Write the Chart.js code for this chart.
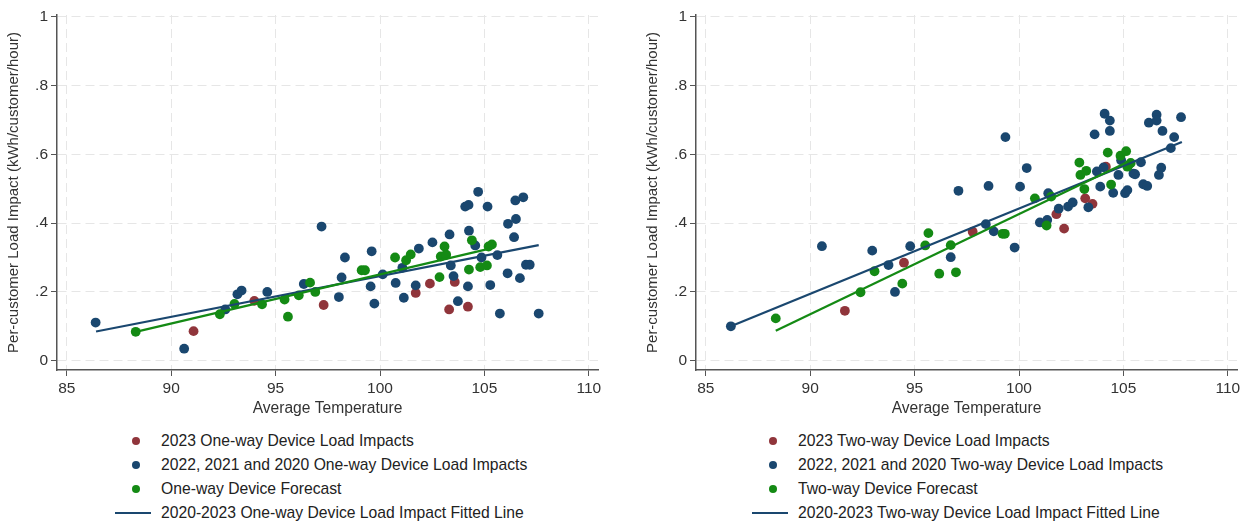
<!DOCTYPE html>
<html>
<head>
<meta charset="utf-8">
<script src="https://cdn.jsdelivr.net/npm/chart.js@4.4.1/dist/chart.umd.min.js"></script>
<style>
  body { margin: 0; background: #fff; font-family: "Liberation Sans", Arial, sans-serif; }
  #wrap { position: relative; width: 1246px; height: 525px; overflow: hidden; }
  .panel { position: absolute; top: 0; }
  .legend { position: absolute; top: 429px; font-size: 15.7px; color: #222; }
  .legend .row { position: relative; height: 24px; line-height: 24px; white-space: nowrap; }
  .legend .dot { position: absolute; left: 17px; top: 8px; width: 8px; height: 8px; border-radius: 50%; }
  .legend .line { position: absolute; left: 0; top: 11px; width: 36px; height: 2px; }
  .legend .txt { position: absolute; left: 46px; top: 0; }
</style>
</head>
<body>
<div id="wrap">
  <canvas id="oneWay" class="panel" width="607" height="425" style="left:0px"></canvas>
  <canvas id="twoWay" class="panel" width="607" height="425" style="left:639px"></canvas>
  <div id="oneWayLegend" class="legend" style="left:115px"></div>
  <div id="twoWayLegend" class="legend" style="left:752px"></div>
</div>
<script>
// axis ticks
const xTicks = [85, 90, 95, 100, 105, 110];
const yTicks = [0, 0.2, 0.4, 0.6, 0.8, 1];

// one-way devices: [average temperature, kWh/customer/hour]
const oneWay2023 = [
  [91.07, 0.086], [93.98, 0.174], [97.3, 0.162], [101.71, 0.197],
  [102.39, 0.224], [103.58, 0.229], [103.31, 0.149], [104.21, 0.157]
];
const oneWayPast = [
  [86.38, 0.111], [90.62, 0.035], [92.59, 0.149], [93.17, 0.193], [93.37, 0.204],
  [94.6, 0.2], [96.35, 0.223], [97.2, 0.39], [98.32, 0.3], [98.16, 0.242],
  [98.03, 0.185], [99.6, 0.318], [99.55, 0.216], [99.73, 0.166], [100.13, 0.251],
  [100.75, 0.226], [101.14, 0.183], [101.07, 0.27], [101.86, 0.326], [101.71, 0.219],
  [102.51, 0.344], [103.33, 0.367], [103.39, 0.277], [103.52, 0.246], [103.73, 0.173],
  [104.08, 0.448], [104.24, 0.453], [104.26, 0.378], [104.21, 0.216], [104.7, 0.491],
  [104.56, 0.335], [105.15, 0.448], [104.86, 0.3], [105.28, 0.22], [105.62, 0.307],
  [105.74, 0.137], [106.13, 0.398], [106.11, 0.254], [106.48, 0.466], [106.51, 0.412],
  [106.42, 0.359], [106.7, 0.24], [106.86, 0.475], [106.99, 0.279], [107.17, 0.279],
  [107.6, 0.137]
];
const oneWayForecast = [
  [88.3, 0.084], [92.33, 0.135], [93.03, 0.165], [94.35, 0.164], [95.43, 0.178],
  [95.59, 0.128], [96.11, 0.19], [96.65, 0.227], [96.9, 0.2], [99.12, 0.263],
  [99.28, 0.263], [100.72, 0.3], [101.25, 0.292], [101.47, 0.309], [102.85, 0.243],
  [103.09, 0.332], [102.91, 0.303], [103.17, 0.308], [104.26, 0.265], [104.4, 0.35],
  [104.8, 0.272], [105.12, 0.277], [105.2, 0.332], [105.36, 0.338]
];
const oneWayFit = [[86.4, 0.085], [107.6, 0.336]];
const oneWayForecastFit = [[88.3, 0.084], [105.25, 0.326]];

// two-way devices
const twoWay2023 = [
  [91.66, 0.145], [94.49, 0.285], [97.78, 0.375], [101.79, 0.426],
  [102.16, 0.384], [103.17, 0.472], [103.52, 0.456], [104.16, 0.564]
];
const twoWayPast = [
  [86.2, 0.1], [90.56, 0.333], [92.97, 0.32], [93.75, 0.278], [94.06, 0.2],
  [94.79, 0.333], [96.73, 0.301], [97.1, 0.494], [98.54, 0.508], [98.41, 0.397],
  [98.79, 0.376], [99.35, 0.65], [99.79, 0.329], [100.05, 0.506], [100.37, 0.56],
  [101.0, 0.402], [101.35, 0.409], [101.4, 0.487], [101.9, 0.442], [102.35, 0.448],
  [102.57, 0.46], [103.32, 0.446], [103.62, 0.658], [103.73, 0.55], [103.89, 0.506],
  [104.05, 0.562], [104.1, 0.718], [104.35, 0.698], [104.35, 0.668], [104.51, 0.488],
  [104.76, 0.54], [104.89, 0.583], [105.08, 0.487], [105.19, 0.496], [105.48, 0.544],
  [105.56, 0.542], [105.84, 0.577], [105.95, 0.513], [106.14, 0.508], [106.22, 0.692],
  [106.59, 0.715], [106.59, 0.698], [106.81, 0.561], [106.7, 0.54], [106.87, 0.668],
  [107.27, 0.618], [107.43, 0.65], [107.76, 0.708]
];
const twoWayForecast = [
  [88.35, 0.123], [92.41, 0.199], [93.08, 0.26], [94.41, 0.224], [95.51, 0.335],
  [95.66, 0.371], [96.18, 0.253], [96.73, 0.336], [96.98, 0.257], [99.21, 0.369],
  [99.32, 0.369], [100.76, 0.472], [101.32, 0.393], [101.54, 0.477], [102.89, 0.576],
  [102.94, 0.54], [103.22, 0.552], [103.13, 0.499], [104.25, 0.605], [104.41, 0.512],
  [104.86, 0.596], [105.13, 0.609], [105.24, 0.568], [105.35, 0.575], [105.19, 0.564]
];
const twoWayFit = [[86.2, 0.1], [107.8, 0.636]];
const twoWayForecastFit = [[88.35, 0.087], [105.35, 0.582]];

const navy = "#1a476f";
const maroon = "#90353b";
const green = "#148a14";
const fontFamily = "'Liberation Sans', Arial, sans-serif";

const toXY = arr => arr.map(p => ({ x: p[0], y: p[1] }));

function scatterSet(label, data, color, order) {
  return {
    type: "scatter", label, data: toXY(data), order,
    backgroundColor: color, borderWidth: 0, pointRadius: 4.9, pointHoverRadius: 4.9
  };
}

function lineSet(label, data, color, order, inLegend) {
  return {
    type: "line", label, data: toXY(data), order, inLegend,
    borderColor: color, backgroundColor: color, borderWidth: 2.2,
    pointRadius: 0, fill: false, tension: 0
  };
}

function fmtY(v) {
  if (v === 0) return "0";
  if (v === 1) return "1";
  return String(v).replace(/^0/, "");
}

function buildChart(id, legendId, kind, d2023, past, forecast, fit, forecastFit) {
  const datasets = [
    scatterSet("2023 " + kind + " Device Load Impacts", d2023, maroon, 6),
    scatterSet("2022, 2021 and 2020 " + kind + " Device Load Impacts", past, navy, 5),
    scatterSet(kind + " Device Forecast", forecast, green, 4),
    lineSet("2020-2023 " + kind + " Device Load Impact Fitted Line", fit, navy, 2, true),
    lineSet(kind + " Device Forecast Fitted Line", forecastFit, green, 1, false)
  ];

  const chart = new Chart(document.getElementById(id), {
    data: { datasets },
    options: {
      responsive: false,
      animation: false,
      devicePixelRatio: 1,
      layout: { padding: { left: 0, right: 9, top: 15, bottom: 0 } },
      plugins: { legend: { display: false }, tooltip: { enabled: false } },
      scales: {
        x: {
          type: "linear", min: 84.53, max: 110.44,
          afterBuildTicks: s => { s.ticks = xTicks.map(v => ({ value: v })); },
          afterFit: s => { s.height = 55; s.paddingLeft = 0; s.paddingRight = 0; },
          ticks: { color: "#333", font: { family: fontFamily, size: 15.5 }, padding: 3, maxRotation: 0 },
          grid: { color: "#e6e6e6", tickColor: "#555", tickLength: 6 },
          border: { color: "#555", width: 1.5, dash: [9, 5] },
          title: {
            display: true, text: "Average Temperature", color: "#333",
            font: { family: fontFamily, size: 15.6 }, padding: { top: 0, bottom: 7 }
          }
        },
        y: {
          type: "linear", min: -0.027, max: 1.005,
          afterBuildTicks: s => { s.ticks = yTicks.map(v => ({ value: v })); },
          afterFit: s => { s.width = 57; s.paddingTop = 0; s.paddingBottom = 0; },
          ticks: { color: "#333", font: { family: fontFamily, size: 15.5 }, padding: 3, callback: fmtY },
          grid: { color: "#e6e6e6", tickColor: "#555", tickLength: 6 },
          border: { color: "#555", width: 1.5, dash: [9, 5] },
          title: {
            display: true, text: "Per-customer Load Impact (kWh/customer/hour)", color: "#333",
            font: { family: fontFamily, size: 15 }, padding: { top: 5, bottom: 0 }
          }
        }
      }
    }
  });

  // legend under the plot: dots for scatters, a stroke for the fitted line
  const box = document.getElementById(legendId);
  chart.data.datasets.forEach(ds => {
    if (ds.type === "line" && !ds.inLegend) return;
    const row = document.createElement("div");
    row.className = "row";
    const sym = document.createElement("span");
    sym.className = ds.type === "line" ? "line" : "dot";
    sym.style.background = ds.backgroundColor;
    const txt = document.createElement("span");
    txt.className = "txt";
    txt.textContent = ds.label;
    row.appendChild(sym);
    row.appendChild(txt);
    box.appendChild(row);
  });
  return chart;
}

buildChart("oneWay", "oneWayLegend", "One-way",
  oneWay2023, oneWayPast, oneWayForecast, oneWayFit, oneWayForecastFit);
buildChart("twoWay", "twoWayLegend", "Two-way",
  twoWay2023, twoWayPast, twoWayForecast, twoWayFit, twoWayForecastFit);
</script>
</body>
</html>
